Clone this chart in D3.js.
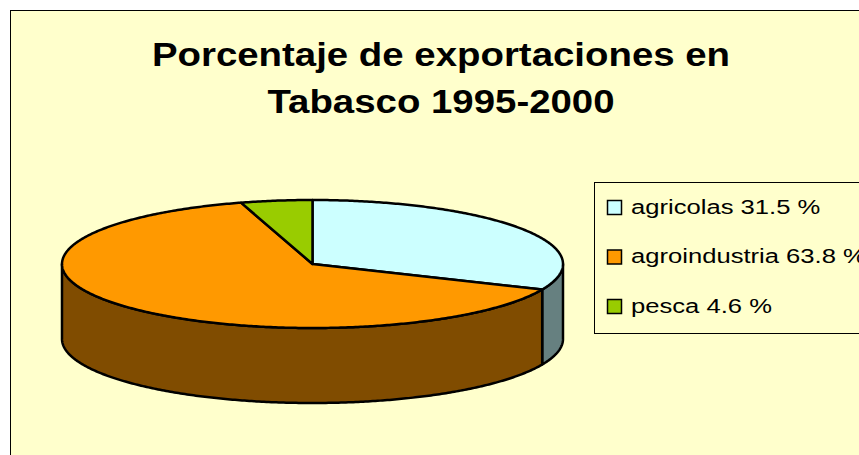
<!DOCTYPE html>
<meta charset="utf-8">
<style>
body{margin:0;background:#fff;}
text{font-family:"Liberation Sans",Arial,sans-serif;fill:#000;}
.title{font-size:32px;font-weight:bold;}
.legend text{font-size:21px;}
.face,.wall{stroke:#000;stroke-width:2.5px;stroke-linejoin:round;}
</style>
<body>
<script src="https://d3js.org/d3.v7.min.js"></script>
<script>

var titleLines = ['Porcentaje de exportaciones en', 'Tabasco 1995-2000'];
var categories = ['agricolas', 'agroindustria', 'pesca'];
var values = [31.5, 63.8, 4.6];

var topColor = {agricolas:'#CCFFFF', agroindustria:'#FF9900', pesca:'#99CC00'};
var sideColor = {agricolas:'#668080', agroindustria:'#804C00', pesca:'#4D6600'};

var W = 859, H = 455;
var svg = d3.select("body").append("svg").attr("width", W).attr("height", H);

// chart area
svg.append("rect").attr("x",10.5).attr("y",10.5).attr("width",900).attr("height",500)
	.attr("fill","#FFFFCC").attr("stroke","#000").attr("stroke-width",1);

// title (original picture is stretched horizontally)
svg.selectAll(".title").data(titleLines).enter().append("text")
	.attr("class","title")
	.attr("text-anchor","middle")
	.attr("transform",(d,i)=>"translate(441,"+(65.5+i*47)+") scale(1.2,1.02)")
	.text(d=>d);

// 3d pie
var cx = 312.5, cy = 264, rx = 250.5, ry = 64, depth = 75;
var pie = d3.pie().sort(null).value(d=>d.v).startAngle(0).endAngle(2*Math.PI);
var arcs = pie(categories.map((c,i)=>({c:c, v:values[i]})));

function pt(a, dy){ return [cx + rx*Math.sin(a), cy - ry*Math.cos(a) + (dy||0)]; }
function samples(a0, a1){
	var n = Math.max(2, Math.ceil((a1-a0)/0.01));
	return d3.range(n+1).map(i=>a0 + (a1-a0)*i/n);
}
var line = d3.line();

var g = svg.append("g");

// outer walls, front half only
arcs.forEach(function(d){
	var a0 = Math.max(d.startAngle, Math.PI/2), a1 = Math.min(d.endAngle, 3*Math.PI/2);
	if (a1 <= a0) return;
	var s = samples(a0, a1);
	var pts = s.map(a=>pt(a)).concat(s.slice().reverse().map(a=>pt(a, depth)));
	g.append("path").attr("class","wall")
		.attr("d", line(pts)+"Z")
		.attr("fill", sideColor[d.data.c]);
});

// top faces
arcs.forEach(function(d){
	var pts = [[cx,cy]].concat(samples(d.startAngle, d.endAngle).map(a=>pt(a)));
	g.append("path").attr("class","face")
		.attr("d", line(pts)+"Z")
		.attr("fill", topColor[d.data.c]);
});

// legend
var lg = svg.append("g").attr("class","legend");
lg.append("rect").attr("x",594.5).attr("y",182.5).attr("width",300).attr("height",151)
	.attr("fill","#FFFFCC").attr("stroke","#000").attr("stroke-width",1);
var rows = lg.selectAll(".row").data(categories).enter().append("g")
	.attr("transform",(d,i)=>"translate(0,"+(200+i*49.5)+")");
rows.append("rect").attr("x",607.5).attr("y",0.5).attr("width",14).attr("height",14)
	.attr("fill",d=>topColor[d]).attr("stroke","#000").attr("stroke-width",1.5);
rows.append("text")
	.attr("transform","translate(631,13.5) scale(1.22,1)")
	.text((d,i)=>d+" "+values[i]+" %");

</script>
</body>
</html>
